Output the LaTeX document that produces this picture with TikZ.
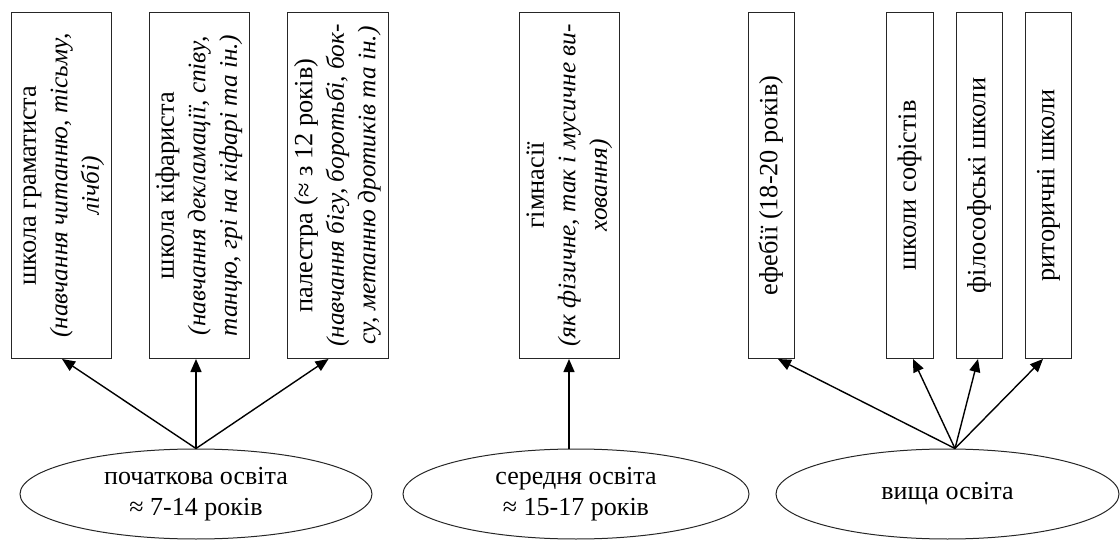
\documentclass[tikz,border=0pt]{standalone}
\usepackage{fontspec}
\usepackage{graphicx}
\setmainfont{Liberation Serif}
\usetikzlibrary{shapes.geometric,arrows.meta}
\newcommand\vtxt[1]{\rotatebox{90}{\begin{tabular}{@{}c@{}}#1\end{tabular}}}
\newcommand\itl{\fontsize{25.3}{31.5}\selectfont\itshape}
\begin{document}
\begin{tikzpicture}[x=1pt,y=-1pt,
  box/.style={draw=black!85,line width=1pt,inner sep=0pt,minimum height=346pt,
    font=\fontsize{26.3}{31.5}\selectfont},
  oval/.style={ellipse,draw=black!85,line width=1pt,inner sep=0pt,minimum height=90pt,
    align=center,font=\fontsize{26}{30.5}\selectfont},
  arr/.style={-{Triangle[length=13pt,width=11pt]},line width=1.4pt}]
\useasboundingbox (0,0) rectangle (1120,540);

% boxes
\node[box,minimum width=100pt] (b1) at (61,185.5)
  {\vtxt{школа граматиста\\ \itl (навчання читанню, тісьму,\\ \itl лічбі)}};
\node[box,minimum width=100pt] (b2) at (199,185.5)
  {\vtxt{школа кіфариста\\ \itl (навчання декламації, співу,\\ \itl танцю, грі на кіфарі та ін.)}};
\node[box,minimum width=101pt] (b3) at (337.5,185.5)
  {\vtxt{палестра (≈ з 12 років)\\ \itl (навчання бігу, боротьбі, бок-\\ \itl су, метанню дротиків та ін.)}};
\node[box,minimum width=100pt] (b4) at (569,185.5)
  {\vtxt{гімнасії\\ \itl (як фізичне, так і мусичне ви-\\ \itl ховання)}};
\node[box,minimum width=46pt] (b5) at (771,185.5) {\vtxt{ефебії (18-20 років)}};
\node[box,minimum width=47pt] (b6) at (909.5,185.5) {\vtxt{школи софістів}};
\node[box,minimum width=46pt] (b7) at (979,185.5) {\vtxt{філософські школи}};
\node[box,minimum width=46pt] (b8) at (1048,185.5) {\vtxt{риторичні школи}};

% ellipses
\node[oval,minimum width=352pt] (e1) at (196,494) {початкова освіта\\ ≈ 7-14 років};
\node[oval,minimum width=346pt] (e2) at (576,494) {середня освіта\\ ≈ 15-17 років};
\node[oval,minimum width=343pt] (e3) at (947.5,494) {вища освіта};

\coordinate (o1) at (e1.north);
\coordinate (o3) at ([xshift=7.5pt]e3.north);

% connectors
\draw[arr] (o1) -- ([xshift=1pt]b1.south);
\draw[arr] (o1) -- (o1 |- b2.south);
\draw[arr] (o1) -- ([xshift=-9pt]b3.south);
\draw[arr] (b4.south |- e2.north) -- (b4.south);
\draw[arr] (o3) -- ([xshift=7pt]b5.south);
\draw[arr] (o3) -- ([xshift=3.5pt]b6.south);
\draw[arr] (o3) -- ([xshift=-1pt]b7.south);
\draw[arr] (o3) -- ([xshift=-5pt]b8.south);
\end{tikzpicture}
\end{document}
